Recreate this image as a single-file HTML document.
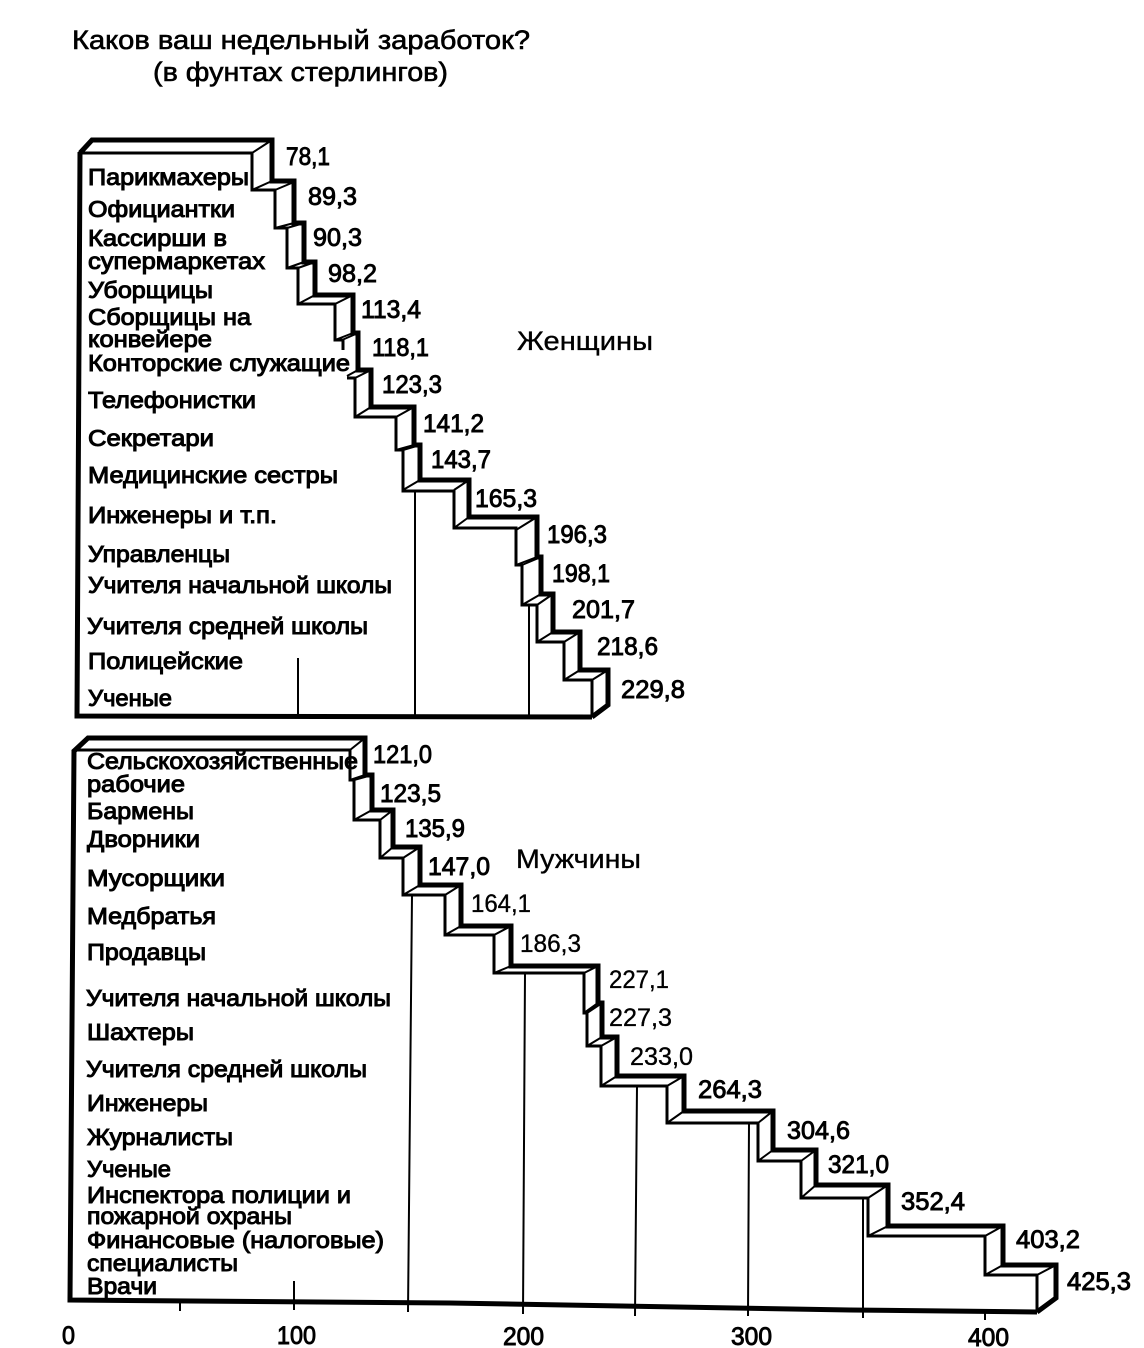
<!DOCTYPE html>
<html><head><meta charset="utf-8"><style>
html,body{margin:0;padding:0;background:#fff}
svg{display:block}
text{font-family:"Liberation Sans",sans-serif;font-size:23px;fill:#000;stroke:#000;stroke-width:1px}
.v{font-size:25px;stroke-width:.9px}
.t{font-size:27px;stroke-width:.6px}
.h{font-size:27px;stroke-width:.35px}
.n{font-size:25px;stroke-width:.35px}
</style></head><body>
<svg width="1144" height="1348" viewBox="0 0 1144 1348" xmlns="http://www.w3.org/2000/svg">
<g fill="none" stroke="#000" stroke-linejoin="miter">
<!-- women -->
<path stroke-width="5" d="M80 153 L92 140 H272 V181 H294 V223 H304 V262 H315 V295 H353 V333 H358 V370 H371 V407 H414 V445 H420 V480 H469 V517 H537 V557 H541 V594 H553 V632 H580 V670 H608 V705 L592 717"/>
<path stroke-width="3" d="M80 153 H252 V190 H275 V228 H287 V268 H298 V304 H335 V340 H343 V350 M347 378 H355 V417 H396 V450 H403 V491 H454 V528 H516 V565 H522 V605 H537 V642 H564 V680 H592 V717"/>
<path stroke-width="2" d="M272 140L252 153M272 181L252 190M294 182L275 190M294 223L275 228M304 223L287 228M304 262L287 268M315 262L298 268M315 295L298 304M353 295L335 304M353 333L335 340M358 333L342 340M358 370L347 376M371 370L355 378M371 407L355 417M414 407L396 417M414 445L396 450M420 445L403 450M420 480L403 490M469 480L454 490M469 517L454 528M537 517L516 530M537 557L516 565M541 557L522 565M541 594L522 605M553 594L537 605M553 632L537 642M580 632L564 642M580 670L564 680M608 670L592 680M608 705L592 717"/>
<path stroke-width="5" d="M80 152 L77 716 L592 717"/>
<path stroke-width="2" d="M298 658V716M415 491V716M529 605V716"/>
<!-- men -->
<path stroke-width="5" d="M73 752 L88 738 H365 V775 H372 V810 H393 V847 H420 V885 H461 V926 H511 V966 H598 V1003 H602 V1037 H617 V1076 H684 V1111 H773 V1150 H816 V1185 H888 V1226 H1003 V1265 H1056 V1298 L1037 1312"/>
<path stroke-width="3" d="M73 750 H350 V780 H354 V820 H380 V858 H403 V895 H445 V935 H494 V973 H584 V1013 H587 V1046 H601 V1086 H667 V1123 H758 V1161 H801 V1198 H868 V1236 H985 V1275 H1037 V1312"/>
<path stroke-width="2" d="M365 738L350 750M365 775L350 780M372 775L354 780M372 810L354 820M393 810L380 820M393 847L380 858M420 847L403 858M420 885L403 895M461 885L445 895M461 926L445 935M511 926L494 935M511 966L494 973M598 966L584 973M598 1003L584 1013M602 1003L587 1013M602 1037L587 1046M617 1037L601 1046M617 1076L601 1086M684 1076L667 1086M684 1111L667 1123M773 1111L758 1123M773 1150L758 1161M816 1150L801 1161M816 1185L801 1198M888 1185L868 1198M888 1226L868 1236M1003 1226L985 1236M1003 1265L985 1275M1056 1265L1037 1275M1056 1298L1037 1312"/>
<path stroke-width="5" d="M74 750 L70 1300 L450 1303 L850 1310 L1037 1312"/>
<path stroke-width="2" d="M412 895L408 1312M525 973L523 1314M637 1086L635 1316M749 1123L748 1316M863 1198V1318M294 1281V1310M180 1300V1311M985 1310V1320"/>
</g>
<text class="t" x="72" y="49" textLength="458" lengthAdjust="spacingAndGlyphs">Каков ваш недельный заработок?</text>
<text class="t" x="153" y="81" textLength="295" lengthAdjust="spacingAndGlyphs">(в фунтах стерлингов)</text>
<text class="h" x="517" y="350" textLength="136" lengthAdjust="spacingAndGlyphs">Женщины</text>
<text class="h" x="516" y="868" textLength="125" lengthAdjust="spacingAndGlyphs">Мужчины</text>

<text x="88" y="185" textLength="161" lengthAdjust="spacingAndGlyphs">Парикмахеры</text>
<text x="88" y="217" textLength="147" lengthAdjust="spacingAndGlyphs">Официантки</text>
<text x="88" y="246" textLength="139" lengthAdjust="spacingAndGlyphs">Кассирши в</text>
<text x="88" y="269" textLength="177" lengthAdjust="spacingAndGlyphs">супермаркетах</text>
<text x="88" y="298" textLength="125" lengthAdjust="spacingAndGlyphs">Уборщицы</text>
<text x="88" y="325" textLength="163" lengthAdjust="spacingAndGlyphs">Сборщицы на</text>
<text x="88" y="347" textLength="124" lengthAdjust="spacingAndGlyphs">конвейере</text>
<text x="88" y="371" textLength="262" lengthAdjust="spacingAndGlyphs">Конторские служащие</text>
<text x="88" y="408" textLength="168" lengthAdjust="spacingAndGlyphs">Телефонистки</text>
<text x="88" y="446" textLength="126" lengthAdjust="spacingAndGlyphs">Секретари</text>
<text x="88" y="483" textLength="250" lengthAdjust="spacingAndGlyphs">Медицинские сестры</text>
<text x="88" y="523" textLength="189" lengthAdjust="spacingAndGlyphs">Инженеры и т.п.</text>
<text x="88" y="562" textLength="142" lengthAdjust="spacingAndGlyphs">Управленцы</text>
<text x="88" y="593" textLength="304" lengthAdjust="spacingAndGlyphs">Учителя начальной школы</text>
<text x="87" y="634" textLength="281" lengthAdjust="spacingAndGlyphs">Учителя средней школы</text>
<text x="88" y="669" textLength="155" lengthAdjust="spacingAndGlyphs">Полицейские</text>
<text x="88" y="706" textLength="84" lengthAdjust="spacingAndGlyphs">Ученые</text>

<text x="87" y="769" textLength="271" lengthAdjust="spacingAndGlyphs">Сельскохозяйственные</text>
<text x="87" y="792" textLength="98" lengthAdjust="spacingAndGlyphs">рабочие</text>
<text x="87" y="819" textLength="107" lengthAdjust="spacingAndGlyphs">Бармены</text>
<text x="87" y="847" textLength="113" lengthAdjust="spacingAndGlyphs">Дворники</text>
<text x="87" y="886" textLength="138" lengthAdjust="spacingAndGlyphs">Мусорщики</text>
<text x="87" y="924" textLength="129" lengthAdjust="spacingAndGlyphs">Медбратья</text>
<text x="87" y="960" textLength="119" lengthAdjust="spacingAndGlyphs">Продавцы</text>
<text x="86" y="1006" textLength="305" lengthAdjust="spacingAndGlyphs">Учителя начальной школы</text>
<text x="87" y="1040" textLength="107" lengthAdjust="spacingAndGlyphs">Шахтеры</text>
<text x="86" y="1077" textLength="281" lengthAdjust="spacingAndGlyphs">Учителя средней школы</text>
<text x="87" y="1111" textLength="121" lengthAdjust="spacingAndGlyphs">Инженеры</text>
<text x="87" y="1145" textLength="146" lengthAdjust="spacingAndGlyphs">Журналисты</text>
<text x="87" y="1177" textLength="84" lengthAdjust="spacingAndGlyphs">Ученые</text>
<text x="87" y="1203" textLength="264" lengthAdjust="spacingAndGlyphs">Инспектора полиции и</text>
<text x="87" y="1224" textLength="205" lengthAdjust="spacingAndGlyphs">пожарной охраны</text>
<text x="87" y="1248" textLength="297" lengthAdjust="spacingAndGlyphs">Финансовые (налоговые)</text>
<text x="87" y="1271" textLength="151" lengthAdjust="spacingAndGlyphs">специалисты</text>
<text x="87" y="1294" textLength="70" lengthAdjust="spacingAndGlyphs">Врачи</text>

<g>
<text class="v" x="286" y="165" textLength="44" lengthAdjust="spacingAndGlyphs">78,1</text>
<text class="v" x="308" y="205" textLength="49" lengthAdjust="spacingAndGlyphs">89,3</text>
<text class="v" x="313" y="246" textLength="49" lengthAdjust="spacingAndGlyphs">90,3</text>
<text class="v" x="328" y="282" textLength="49" lengthAdjust="spacingAndGlyphs">98,2</text>
<text class="v" x="361" y="318" textLength="60" lengthAdjust="spacingAndGlyphs">113,4</text>
<text class="v" x="372" y="356" textLength="57" lengthAdjust="spacingAndGlyphs">118,1</text>
<text class="v" x="382" y="393" textLength="60" lengthAdjust="spacingAndGlyphs">123,3</text>
<text class="v" x="423" y="432" textLength="61" lengthAdjust="spacingAndGlyphs">141,2</text>
<text class="v" x="431" y="468" textLength="60" lengthAdjust="spacingAndGlyphs">143,7</text>
<text class="v" x="475" y="507" textLength="62" lengthAdjust="spacingAndGlyphs">165,3</text>
<text class="v" x="547" y="543" textLength="60" lengthAdjust="spacingAndGlyphs">196,3</text>
<text class="v" x="552" y="582" textLength="58" lengthAdjust="spacingAndGlyphs">198,1</text>
<text class="v" x="572" y="618" textLength="63" lengthAdjust="spacingAndGlyphs">201,7</text>
<text class="v" x="597" y="655" textLength="61" lengthAdjust="spacingAndGlyphs">218,6</text>
<text class="v" x="621" y="698" textLength="64" lengthAdjust="spacingAndGlyphs">229,8</text>

<text class="v" x="373" y="763" textLength="59" lengthAdjust="spacingAndGlyphs">121,0</text>
<text class="v" x="380" y="802" textLength="61" lengthAdjust="spacingAndGlyphs">123,5</text>
<text class="v" x="405" y="837" textLength="60" lengthAdjust="spacingAndGlyphs">135,9</text>
<text class="v" x="428" y="875" textLength="62" lengthAdjust="spacingAndGlyphs">147,0</text>
<text class="n" x="471" y="912" textLength="60" lengthAdjust="spacingAndGlyphs">164,1</text>
<text class="n" x="520" y="952" textLength="61" lengthAdjust="spacingAndGlyphs">186,3</text>
<text class="n" x="609" y="988" textLength="60" lengthAdjust="spacingAndGlyphs">227,1</text>
<text class="n" x="609" y="1026" textLength="63" lengthAdjust="spacingAndGlyphs">227,3</text>
<text class="n" x="630" y="1065" textLength="63" lengthAdjust="spacingAndGlyphs">233,0</text>
<text class="v" x="698" y="1098" textLength="64" lengthAdjust="spacingAndGlyphs">264,3</text>
<text class="v" x="787" y="1139" textLength="63" lengthAdjust="spacingAndGlyphs">304,6</text>
<text class="v" x="828" y="1173" textLength="61" lengthAdjust="spacingAndGlyphs">321,0</text>
<text class="v" x="901" y="1210" textLength="64" lengthAdjust="spacingAndGlyphs">352,4</text>
<text class="v" x="1016" y="1248" textLength="64" lengthAdjust="spacingAndGlyphs">403,2</text>
<text class="v" x="1067" y="1290" textLength="64" lengthAdjust="spacingAndGlyphs">425,3</text>

<text class="v" x="62" y="1344" textLength="13" lengthAdjust="spacingAndGlyphs">0</text>
<text class="v" x="277" y="1344" textLength="39" lengthAdjust="spacingAndGlyphs">100</text>
<text class="v" x="503" y="1345" textLength="41" lengthAdjust="spacingAndGlyphs">200</text>
<text class="v" x="731" y="1345" textLength="41" lengthAdjust="spacingAndGlyphs">300</text>
<text class="v" x="968" y="1346" textLength="41" lengthAdjust="spacingAndGlyphs">400</text>
</g>
</svg>
</body></html>
